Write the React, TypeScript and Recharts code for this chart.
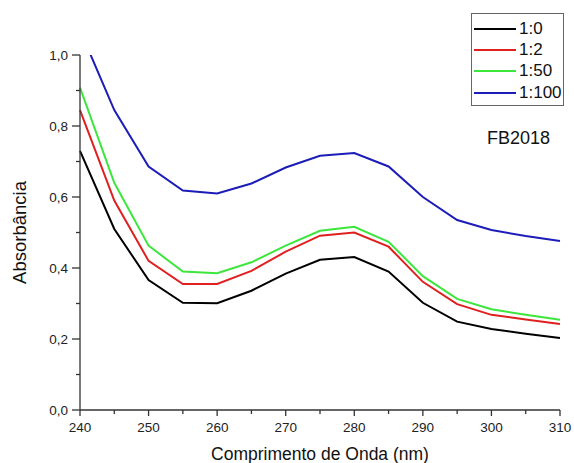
import { LineChart, Line, XAxis, YAxis } from 'recharts';

const wavelengths = [240, 245, 250, 255, 260, 265, 270, 275, 280, 285, 290, 295, 300, 305, 310];
const ratio1to0 = [0.73, 0.51, 0.366, 0.302, 0.301, 0.336, 0.384, 0.423, 0.431, 0.39, 0.302, 0.249, 0.228, 0.215, 0.203];
const ratio1to2 = [0.845, 0.59, 0.42, 0.355, 0.355, 0.392, 0.446, 0.491, 0.5, 0.46, 0.361, 0.298, 0.268, 0.255, 0.242];
const ratio1to50 = [0.908, 0.64, 0.463, 0.39, 0.385, 0.416, 0.463, 0.505, 0.516, 0.474, 0.377, 0.313, 0.284, 0.268, 0.254];
const ratio1to100 = [1.07, 0.845, 0.686, 0.618, 0.61, 0.638, 0.683, 0.716, 0.724, 0.686, 0.6, 0.535, 0.507, 0.49, 0.476];

const xTicks = [240, 245, 250, 255, 260, 265, 270, 275, 280, 285, 290, 295, 300, 305, 310];
const yTicks = [0, 0.1, 0.2, 0.3, 0.4, 0.5, 0.6, 0.7, 0.8, 0.9, 1.0];

const series = [
  { key: 'r0', name: '1:0', color: '#000000', values: ratio1to0 },
  { key: 'r2', name: '1:2', color: '#e02020', values: ratio1to2 },
  { key: 'r50', name: '1:50', color: '#3ce63c', values: ratio1to50 },
  { key: 'r100', name: '1:100', color: '#1c1cb8', values: ratio1to100 }
];

const data = wavelengths.map((w, i) => {
  const row: { [k: string]: number } = { w };
  series.forEach((s) => {
    row[s.key] = s.values[i];
  });
  return row;
});

const FONT = '"Liberation Sans", Arial, sans-serif';
const AXIS = '#333333';

function XTick(props: any) {
  const { x, y, index, payload } = props;
  const major = index % 2 === 0;
  return (
    <g>
      <line x1={x} x2={x} y1={y} y2={y + (major ? 6 : 4)} stroke={AXIS} strokeWidth={1.3} />
      {major && (
        <text x={x} y={y + 22} textAnchor="middle" fontSize={13.5} fill="#222" fontFamily={FONT}>
          {payload.value}
        </text>
      )}
    </g>
  );
}

function YTick(props: any) {
  const { x, y, index, payload } = props;
  const major = index % 2 === 0;
  return (
    <g>
      <line x1={x - (major ? 8 : 4)} x2={x} y1={y} y2={y} stroke={AXIS} strokeWidth={1.3} />
      {major && (
        <text x={x - 12} y={y + 5} textAnchor="end" fontSize={13.5} fill="#222" fontFamily={FONT}>
          {Number(payload.value).toFixed(1).replace('.', ',')}
        </text>
      )}
    </g>
  );
}

// legenda fora do gráfico para não mexer nas margens
function LegendBox() {
  return (
    <div
      style={{
        position: 'absolute',
        left: 471,
        top: 13,
        width: 93,
        height: 93,
        boxSizing: 'border-box',
        border: '1px solid #666',
        padding: '4px 0 0 2px',
        background: '#fff',
        fontFamily: FONT,
        fontSize: 17,
        color: '#111'
      }}
    >
      {series.map((s) => (
        <div key={s.key} style={{ display: 'flex', alignItems: 'center', height: 21.3 }}>
          <div style={{ width: 42, height: 2, background: s.color, marginRight: 3 }} />
          <span>{s.name}</span>
        </div>
      ))}
    </div>
  );
}

export default function App() {
  return (
    <div style={{ position: 'absolute', left: 0, top: 0, width: 574, height: 463, background: '#fff' }}>
      <LineChart width={574} height={463} data={data} margin={{ top: 55, right: 14, bottom: 0, left: 0 }}>
        <XAxis
          dataKey="w"
          type="number"
          domain={[240, 310]}
          ticks={xTicks}
          interval={0}
          tick={<XTick />}
          tickLine={false}
          tickSize={0}
          tickMargin={0}
          height={53}
          stroke={AXIS}
          strokeWidth={1.3}
          label={{
            value: 'Comprimento de Onda (nm)',
            position: 'insideBottom',
            offset: 3,
            fontSize: 17.5,
            fill: '#111',
            fontFamily: FONT
          }}
        />
        <YAxis
          type="number"
          domain={[0, 1]}
          allowDataOverflow
          ticks={yTicks}
          interval={0}
          tick={<YTick />}
          tickLine={false}
          tickSize={0}
          tickMargin={0}
          width={80}
          stroke={AXIS}
          strokeWidth={1.3}
          label={{
            value: 'Absorbância',
            angle: -90,
            position: 'insideLeft',
            offset: 19,
            fontSize: 18.5,
            fill: '#111',
            fontFamily: FONT,
            style: { textAnchor: 'middle' }
          }}
        />
        {series.map((s) => (
          <Line
            key={s.key}
            dataKey={s.key}
            name={s.name}
            type="linear"
            stroke={s.color}
            strokeWidth={2}
            dot={false}
            isAnimationActive={false}
          />
        ))}
      </LineChart>
      <LegendBox />
      <div
        style={{
          position: 'absolute',
          left: 487,
          top: 128,
          fontFamily: FONT,
          fontSize: 18,
          color: '#111'
        }}
      >
        FB2018
      </div>
    </div>
  );
}
